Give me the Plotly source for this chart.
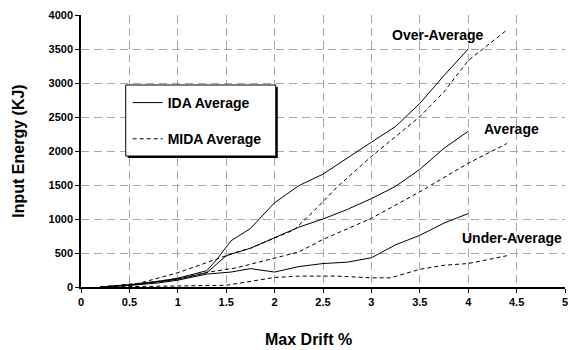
import plotly.graph_objects as go

# IDA averages (solid lines)
drift_ida_over = [0.2, 0.5, 0.8, 1.0, 1.3, 1.4, 1.55, 1.75, 2.0, 2.25, 2.5, 2.75, 3.0, 3.25, 3.5, 3.75, 4.0]
energy_ida_over = [0, 35, 85, 130, 240, 400, 680, 860, 1240, 1490, 1660, 1900, 2130, 2360, 2700, 3110, 3500]

drift_ida_avg = [0.2, 0.5, 0.8, 1.0, 1.3, 1.5, 1.75, 2.0, 2.25, 2.5, 2.75, 3.0, 3.25, 3.5, 3.75, 4.0]
energy_ida_avg = [0, 28, 75, 115, 210, 460, 570, 720, 880, 1000, 1140, 1300, 1480, 1730, 2040, 2290]

drift_ida_under = [0.2, 0.5, 0.8, 1.0, 1.3, 1.55, 1.75, 2.0, 2.25, 2.5, 2.75, 3.0, 3.25, 3.5, 3.75, 4.0]
energy_ida_under = [0, 22, 60, 100, 190, 220, 270, 220, 300, 345, 365, 430, 620, 760, 940, 1080]

# MIDA averages (dashed lines)
drift_mida_over = [0.2, 0.6, 1.0, 1.3, 1.6, 1.75, 2.0, 2.2, 2.4, 2.65, 3.0, 3.25, 3.5, 3.75, 4.0, 4.4]
energy_mida_over = [0, 55, 210, 355, 510, 570, 716, 840, 1110, 1475, 1920, 2210, 2505, 2870, 3330, 3780]

drift_mida_avg = [0.2, 0.5, 1.0, 1.3, 1.6, 2.0, 2.25, 2.5, 3.0, 3.5, 4.0, 4.4]
energy_mida_avg = [0, 30, 120, 215, 280, 420, 515, 700, 1010, 1400, 1820, 2110]

drift_mida_under = [0.2, 0.5, 1.0, 1.5, 2.0, 2.25, 2.65, 3.0, 3.2, 3.5, 3.75, 4.0, 4.4]
energy_mida_under = [0, 5, 10, 25, 140, 160, 160, 135, 135, 260, 320, 345, 460]

x_ticks = [0, 0.5, 1, 1.5, 2, 2.5, 3, 3.5, 4, 4.5, 5]
y_ticks = [0, 500, 1000, 1500, 2000, 2500, 3000, 3500, 4000]

group_labels = ["Over-Average", "Average", "Under-Average"]

FONT = "Liberation Sans, Arial, sans-serif"

# plot-area geometry in pixels (used for paper-coordinate placement)
L, R, T, B = 81, 568, 15, 287
PW, PH = R - L, B - T


def px_x(p):
    return (p - L) / PW


def px_y(p):
    return (B - p) / PH


fig = go.Figure()

ida_sets = [(drift_ida_over, energy_ida_over), (drift_ida_avg, energy_ida_avg),
            (drift_ida_under, energy_ida_under)]
mida_sets = [(drift_mida_over, energy_mida_over), (drift_mida_avg, energy_mida_avg),
             (drift_mida_under, energy_mida_under)]

for i, (xs, ys) in enumerate(ida_sets):
    fig.add_trace(go.Scatter(
        x=xs, y=ys, mode="lines", name="IDA Average",
        legendgroup="ida", showlegend=(i == 0),
        line=dict(color="black", width=1)))

for i, (xs, ys) in enumerate(mida_sets):
    fig.add_trace(go.Scatter(
        x=xs, y=ys, mode="lines", name="MIDA Average",
        legendgroup="mida", showlegend=(i == 0),
        line=dict(color="black", width=1, dash="4px,3px")))

# Curve group labels
label_pos = [(3.69, 3700), (4.45, 2330), (4.45, 720)]
for text, (lx, ly) in zip(group_labels, label_pos):
    fig.add_annotation(x=lx, y=ly, text=text, showarrow=False,
                       font=dict(family=FONT, size=14, color="black", weight="bold"))

# x-axis title
fig.add_annotation(xref="paper", yref="paper", x=px_x(310), y=px_y(339),
                   xanchor="center", yanchor="middle", showarrow=False,
                   text="Max Drift %",
                   font=dict(family=FONT, size=16, color="black", weight="bold"))

grid = dict(showgrid=True, gridcolor="#a6a6a6", gridwidth=1, griddash="8px,5px")
tickfont = dict(family=FONT, size=11, color="black", weight="bold")

fig.update_xaxes(
    range=[0, 5], tickvals=x_ticks, ticktext=[f"{v:g}" for v in x_ticks],
    showline=True, linecolor="black", linewidth=1.5,
    ticks="outside", ticklen=4, tickcolor="black",
    tickfont=tickfont, zeroline=False, **grid)

fig.update_yaxes(
    range=[0, 4000], tickvals=y_ticks,
    showline=True, linecolor="black", linewidth=1.5,
    ticks="outside", ticklen=4, tickcolor="black",
    tickfont=tickfont, zeroline=False,
    title=dict(text="Input Energy (KJ)", standoff=20,
               font=dict(family=FONT, size=16, color="black", weight="bold")),
    **grid)

# Legend frame: drop shadow, then white box with a black border
fig.add_shape(type="rect", xref="paper", yref="paper",
              x0=px_x(128), x1=px_x(279), y0=px_y(158), y1=px_y(87),
              fillcolor="black", line=dict(width=0), layer="above")
fig.add_shape(type="rect", xref="paper", yref="paper",
              x0=px_x(126), x1=px_x(277), y0=px_y(156), y1=px_y(85),
              fillcolor="white", line=dict(color="black", width=1), layer="above")

fig.update_layout(
    width=572, height=350,
    margin=dict(l=L, r=572 - R, t=T, b=350 - B),
    paper_bgcolor="white", plot_bgcolor="white",
    showlegend=True,
    legend=dict(x=px_x(128), y=px_y(87), xanchor="left", yanchor="top",
                bgcolor="rgba(0,0,0,0)", borderwidth=0,
                font=dict(family=FONT, size=14, color="black", weight="bold"),
                tracegroupgap=15),
)

fig.write_html("out.html")
